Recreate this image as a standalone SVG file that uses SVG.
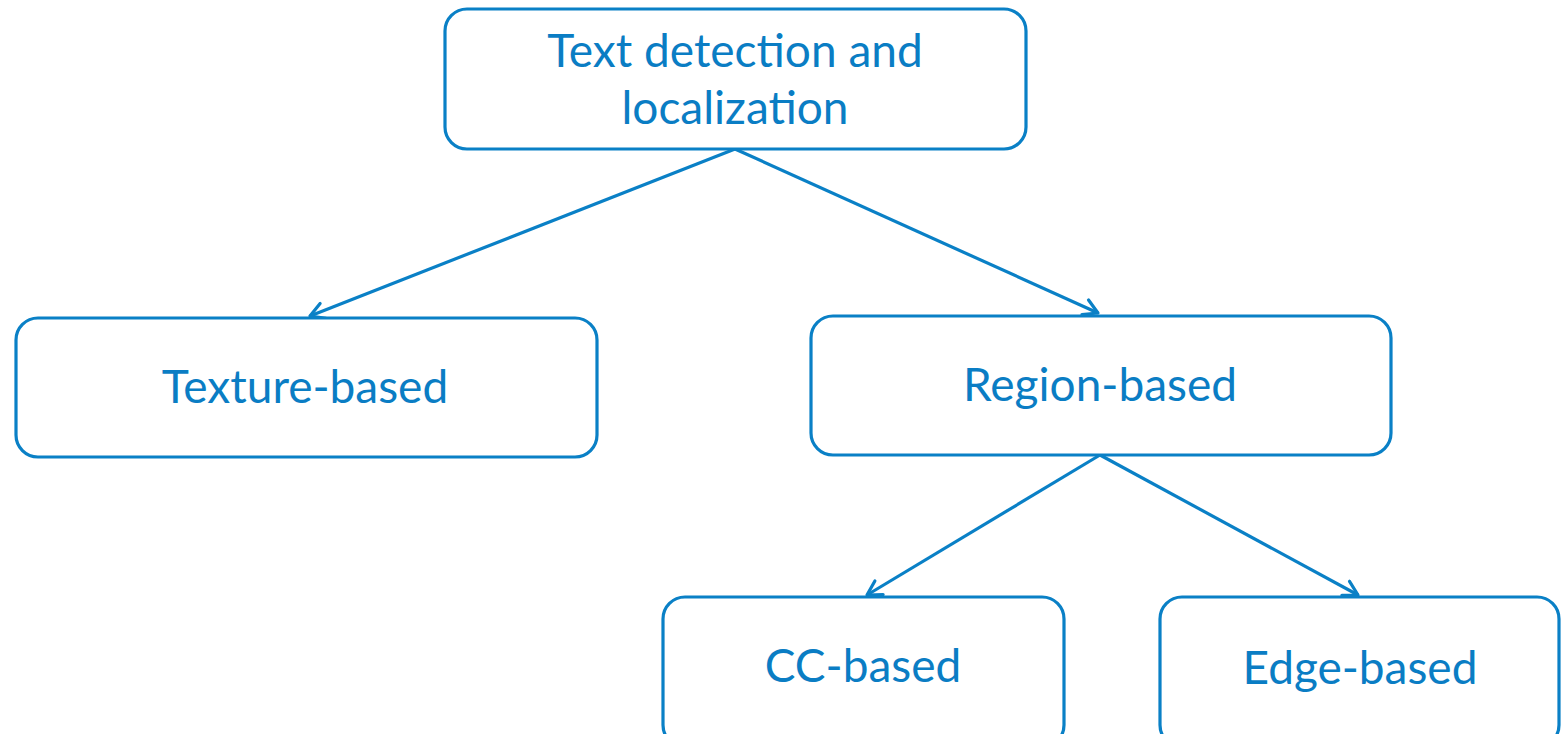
<svg xmlns="http://www.w3.org/2000/svg" width="1561" height="734" viewBox="0 0 1561 734">
<style>
.box{fill:#fff;stroke:#0a80c6;stroke-width:3.2}
.lbl{font-family:Lato,"Liberation Sans",sans-serif;font-size:46px;fill:#0a7dc4;text-anchor:middle}
.conn{stroke:#0a80c6;stroke-width:3.2;fill:none;marker-end:url(#arr)}
</style>
<defs>
<marker id="arr" viewBox="0 0 20 20" refX="18" refY="10" markerWidth="20" markerHeight="20" markerUnits="userSpaceOnUse" orient="auto">
<path d="M4,2 L18,10 L4,18" fill="none" stroke="#0a80c6" stroke-width="3.2" stroke-linecap="round" stroke-linejoin="round"/>
</marker>
</defs>
<rect width="1561" height="734" fill="#fff"/>
<g id="connectors">
<line class="conn" x1="735" y1="149" x2="310" y2="316"/>
<line class="conn" x1="735" y1="149" x2="1098" y2="313"/>
<line class="conn" x1="1100" y1="455" x2="867" y2="595"/>
<line class="conn" x1="1100" y1="455" x2="1358" y2="595"/>
</g>
<g id="root">
<rect class="box" x="445" y="9" width="581" height="140" rx="22"/>
<text class="lbl" x="735" y="67">Text detection and</text>
<text class="lbl" x="735" y="124">localization</text>
</g>
<g id="texture">
<rect class="box" x="16" y="318" width="581" height="139" rx="22"/>
<text class="lbl" x="305" y="403">Texture-based</text>
</g>
<g id="region">
<rect class="box" x="811" y="316" width="580" height="139" rx="22"/>
<text class="lbl" x="1100" y="401">Region-based</text>
</g>
<g id="cc">
<rect class="box" x="663" y="597" width="401" height="150" rx="22"/>
<text class="lbl" x="863" y="682">CC-based</text>
</g>
<g id="edge">
<rect class="box" x="1160" y="597" width="399" height="150" rx="22"/>
<text class="lbl" x="1360" y="684">Edge-based</text>
</g>
</svg>
